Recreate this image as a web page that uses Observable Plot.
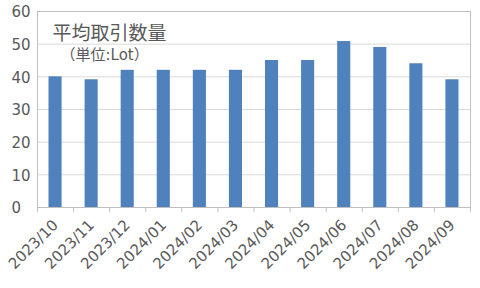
<!DOCTYPE html>
<html>
<head>
<meta charset="utf-8">
<script src="https://cdn.jsdelivr.net/npm/d3@7"></script>
<script src="https://cdn.jsdelivr.net/npm/@observablehq/plot@0.6"></script>
<style>
  html, body { margin: 0; padding: 0; background: #fff; }
  #chart svg { display: block; }
</style>
</head>
<body>
<div id="chart"></div>
<script>
const months = ["2023/10","2023/11","2023/12","2024/01","2024/02","2024/03","2024/04","2024/05","2024/06","2024/07","2024/08","2024/09"];
const values = [40, 39.1, 42, 42, 42, 42, 45, 45, 50.8, 49, 44, 39.1];
const yTicks = [0, 10, 20, 30, 40, 50, 60];
const title = "平均取引数量";
const subtitle = "（単位:Lot）";

const data = months.map((m, i) => ({i, month: m, value: values[i]}));
const font = "'DejaVu Sans', sans-serif";
const cjkFont = "'Noto Sans CJK JP', sans-serif";
const mixedFont = "'DejaVu Sans', 'Noto Sans CJK JP', sans-serif";
const textColor = "#595959";

const chart = Plot.plot({
  width: 480,
  height: 288,
  marginLeft: 37,
  marginRight: 10,
  marginTop: 11,
  marginBottom: 81,
  style: {fontFamily: font, background: "#fff"},
  x: {type: "linear", domain: [0, months.length], axis: null},
  y: {domain: [0, 60], axis: null},
  marks: [
    Plot.ruleY(yTicks, {stroke: "#d9d9d9", strokeWidth: 1}),
    Plot.frame({stroke: "#c0c0c0", strokeWidth: 1}),
    Plot.ruleY([0], {stroke: "#bfbfbf", strokeWidth: 1}),
    Plot.ruleX(d3.range(months.length + 1), {x: d => d, y1: 0, y2: -1.5, stroke: "#bfbfbf"}),
    Plot.rectY(data, {x1: "i", x2: d => d.i + 1, y: "value", fill: "#4f81bd", insetLeft: 11.5, insetRight: 11.5}),
    Plot.text(yTicks, {y: d => d, text: d => String(d), frameAnchor: "left", textAnchor: "start", dx: -26, dy: 1, fontSize: 15, fill: textColor}),
    Plot.text(data, {x: d => d.i + 0.5, y: 0, text: "month", rotate: -45, textAnchor: "end", lineAnchor: "middle", dx: 0, dy: 15, fontSize: 15, fill: textColor}),
    Plot.text([title], {frameAnchor: "top-left", text: d => d, textAnchor: "start", lineAnchor: "middle", dx: 15, dy: 22.5, fontSize: 19, fill: textColor, fontFamily: cjkFont}),
    Plot.text([subtitle], {frameAnchor: "top-left", text: d => d, textAnchor: "start", lineAnchor: "middle", dx: 23, dy: 44, fontSize: 15, fill: textColor, fontFamily: mixedFont})
  ]
});

document.getElementById("chart").appendChild(chart);
</script>
</body>
</html>
